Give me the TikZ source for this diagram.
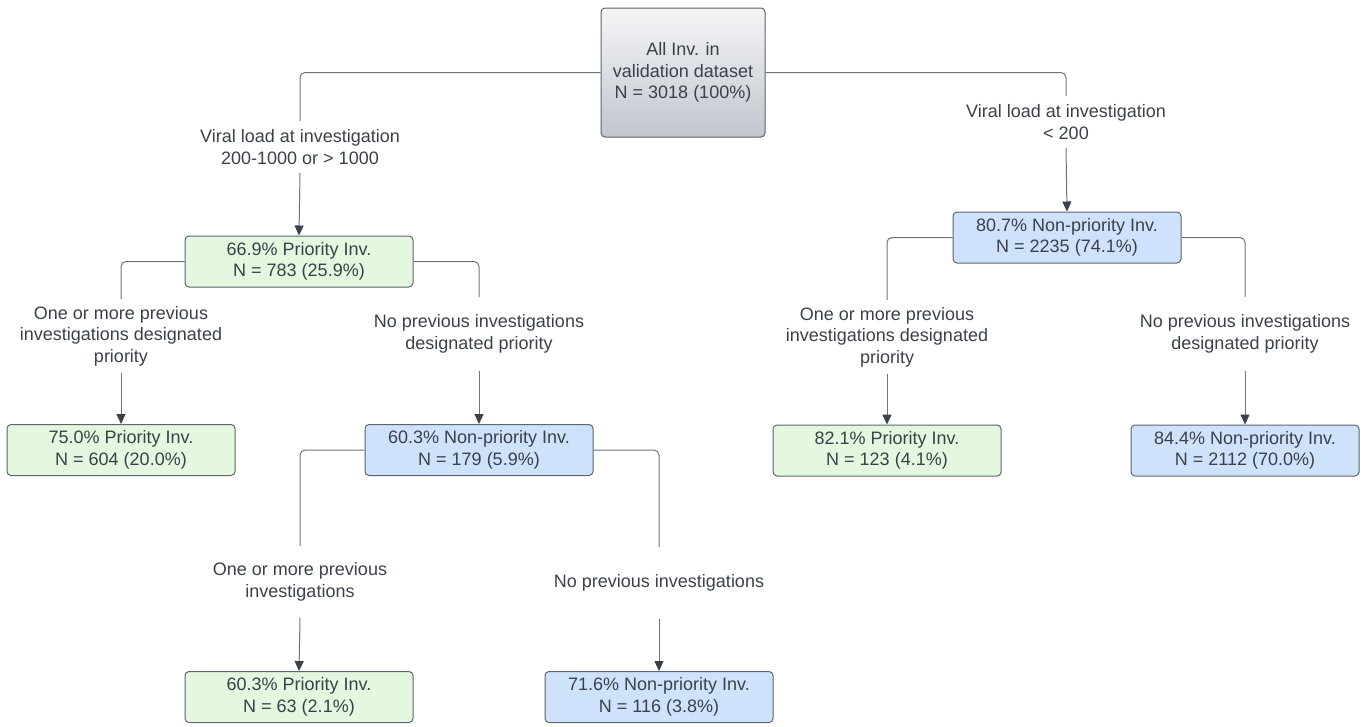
\documentclass[tikz,border=0pt]{standalone}
\usepackage{fontspec}
\setmainfont{Liberation Sans}
\usetikzlibrary{arrows.meta}
\definecolor{txt}{HTML}{3A414A}
\definecolor{ln}{HTML}{6E737A}
\definecolor{bd}{HTML}{5E656E}
\definecolor{gfill}{HTML}{E3F8DE}
\definecolor{bfill}{HTML}{CFE2FB}
\definecolor{rtop}{HTML}{F4F5F7}
\definecolor{rbot}{HTML}{C1C6CD}
\begin{document}
\begin{tikzpicture}[x=1pt,y=-1pt,
  every node/.style={font=\fontsize{18}{21.5}\selectfont, text=txt},
  box/.style={draw=bd, line width=1pt, rounded corners=4pt, minimum width=228pt, minimum height=51pt, align=center, inner sep=0pt},
  gbox/.style={box, fill=gfill},
  bbox/.style={box, fill=bfill},
  rootbox/.style={draw=bd, line width=1pt, rounded corners=4pt, minimum width=164pt, minimum height=129pt, align=center, inner sep=0pt, top color=rtop, bottom color=rbot},
  lbl/.style={align=center, inner sep=0pt},
  conn/.style={draw=ln, line width=1pt, rounded corners=5pt},
  arr/.style={draw=ln, line width=1pt, -{Triangle[length=10pt,width=9pt,color=txt]}}
]
\useasboundingbox (0,0) rectangle (1372,726);

% boxes
\node[rootbox] (root) at (683,72.5) {All Inv. in\\validation dataset\\N = 3018 (100\%)};
\node[gbox] (g1) at (299,261.5) {66.9\% Priority Inv.\\N = 783 (25.9\%)};
\node[bbox] (b1) at (1067,237.5) {80.7\% Non-priority Inv.\\N = 2235 (74.1\%)};
\node[gbox] (g2) at (121,450) {75.0\% Priority Inv.\\N = 604 (20.0\%)};
\node[bbox] (b2) at (479,450) {60.3\% Non-priority Inv.\\N = 179 (5.9\%)};
\node[gbox] (g3) at (887,450.5) {82.1\% Priority Inv.\\N = 123 (4.1\%)};
\node[bbox] (b3) at (1245,450.5) {84.4\% Non-priority Inv.\\N = 2112 (70.0\%)};
\node[gbox] (g4) at (299,697) {60.3\% Priority Inv.\\N = 63 (2.1\%)};
\node[bbox] (b4) at (659,697) {71.6\% Non-priority Inv.\\N = 116 (3.8\%)};

% labels
\node[lbl, minimum height=52pt] (l1) at (300,147) {Viral load at investigation\\200-1000 or > 1000};
\node[lbl, minimum height=52pt] (l2) at (1066,122) {Viral load at investigation\\< 200};
\node[lbl, minimum height=74pt] (l3) at (121,336) {One or more previous\\investigations designated\\priority};
\node[lbl, minimum height=74pt] (l4) at (479,334) {No previous investigations\\designated priority};
\node[lbl, minimum height=74pt] (l7) at (887,337) {One or more previous\\investigations designated\\priority};
\node[lbl, minimum height=74pt] (l8) at (1245,334) {No previous investigations\\designated priority};
\node[lbl, minimum height=72pt] (l5) at (300,582) {One or more previous\\investigations};
\node[lbl, minimum height=72pt] (l6) at (659,583) {No previous investigations};

% connectors
\draw[conn] (root.west) -| (l1.north);
\draw[conn] (root.east) -| (l2.north);
\draw[arr] (l1.south) -- (g1.north);
\draw[arr] (l2.south) -- (b1.north);

\draw[conn] (g1.west) -| (l3.north);
\draw[conn] (g1.east) -| (l4.north);
\draw[arr] (l3.south) -- (g2.north);
\draw[arr] (l4.south) -- (b2.north);

\draw[conn] (b1.west) -| (l7.north);
\draw[conn] (b1.east) -| (l8.north);
\draw[arr] (l7.south) -- (g3.north);
\draw[arr] (l8.south) -- (b3.north);

\draw[conn] (b2.west) -| (l5.north);
\draw[conn] (b2.east) -| (l6.north);
\draw[arr] (l5.south) -- (g4.north);
\draw[arr] (l6.south) -- (b4.north);
\end{tikzpicture}
\end{document}
